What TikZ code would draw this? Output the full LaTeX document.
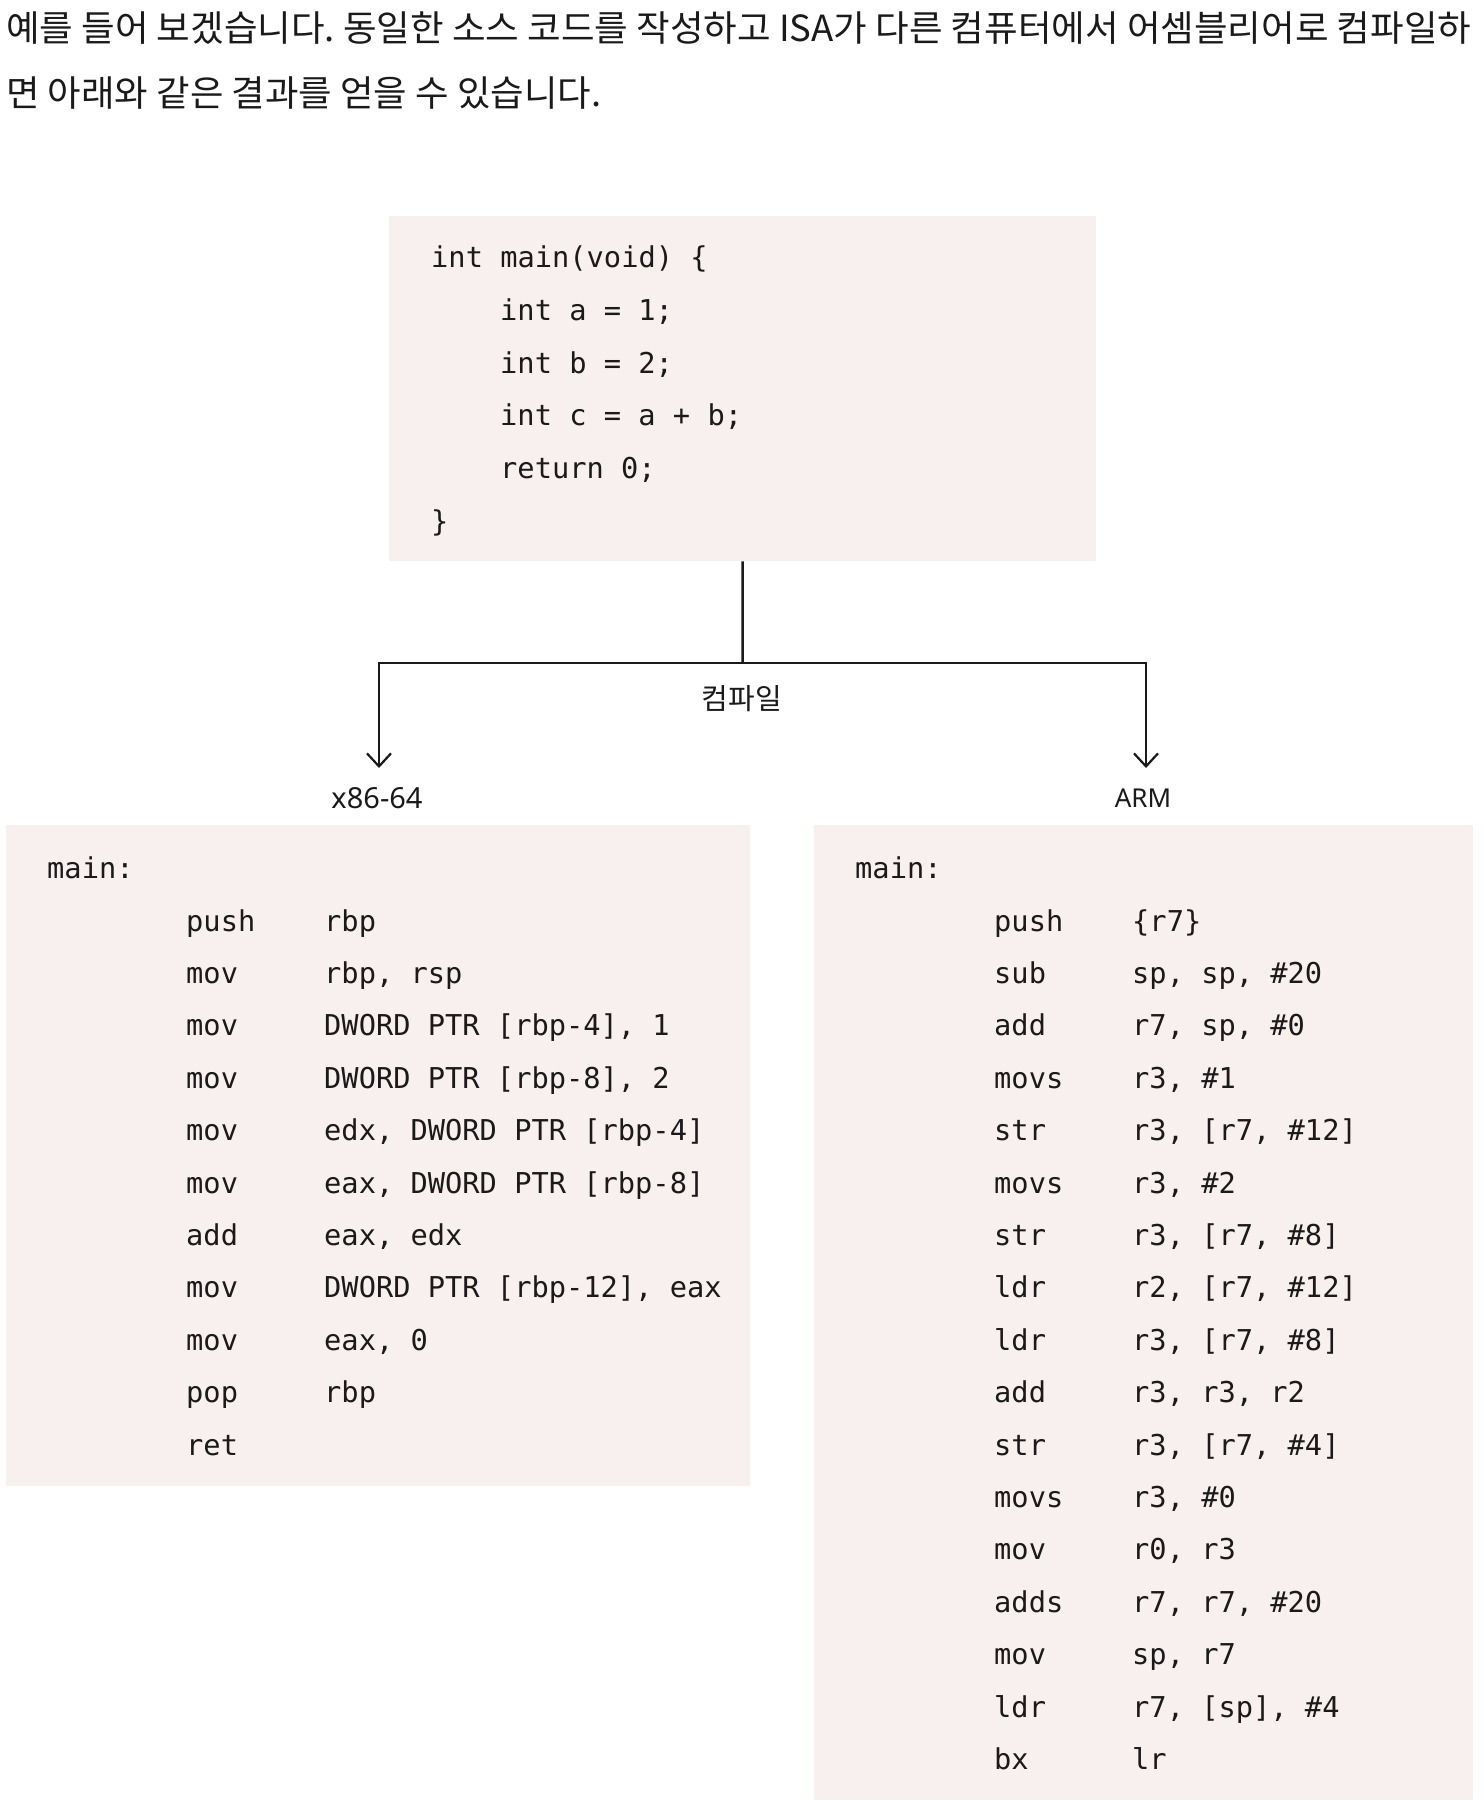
\documentclass[tikz,border=0pt]{standalone}
\usepackage{fontspec}
\usepackage{graphicx}
\setmonofont{DejaVu Sans Mono}
\setsansfont{Noto Sans}
\newfontfamily\kr{Noto Sans CJK KR}
\usetikzlibrary{arrows.meta}
\definecolor{boxfill}{HTML}{F8F0EE}
\definecolor{ink}{HTML}{1A1A1A}
\frenchspacing
\begin{document}
\begin{tikzpicture}[x=1pt,y=-1pt,
  codebox/.style={fill=boxfill, draw=none, inner sep=0pt, anchor=north west},
  code/.style={font=\ttfamily\fontsize{28.7}{34}\selectfont, text=ink, anchor=base west, inner sep=0pt},
  para/.style={font=\kr\fontsize{36}{42}\selectfont, text=ink, anchor=base west, inner sep=0pt},
  lbl/.style={font=\kr\fontsize{29}{32}\selectfont, text=ink, inner sep=0pt},
  conn/.style={draw=ink, line width=2.5pt},
  arr/.style={conn, -{Straight Barb[length=13pt, width=24pt, line width=2.2pt]}},
 ]
\useasboundingbox (0,0) rectangle (1483,1803);

% paragraph
\node[para] (p1) at (6,42) {\resizebox{1465pt}{\height}{예를 들어 보겠습니다. 동일한 소스 코드를 작성하고 ISA가 다른 컴퓨터에서 어셈블리어로 컴파일하}};
\node[para] (p2) at (6,107) {\resizebox{595pt}{\height}{면 아래와 같은 결과를 얻을 수 있습니다.}};

% boxes
\node[codebox, minimum width=707pt, minimum height=345pt] (src) at (389,216) {};
\node[codebox, minimum width=744pt, minimum height=661pt] (x86) at (6,825) {};
\node[codebox, minimum width=659pt, minimum height=975pt] (arm) at (814,825) {};

% source code
\node[code] (s0) at (431,267.5) {int main(void) \{};
\node[code] (s1) at (500,320) {int a = 1;};
\node[code] (s2) at (500,373) {int b = 2;};
\node[code] (s3) at (500,425.5) {int c = a + b;};
\node[code] (s4) at (500,478) {return 0;};
\node[code] (s5) at (431,531) {\}};

% connectors
\coordinate (split) at (742.5,663);
\coordinate (lft) at (379,663);
\coordinate (rgt) at (1146,663);
\coordinate (lend) at (379,768);
\coordinate (rend) at (1146,768);
\draw[conn] (src.south) -- (split);
\draw[arr] (split) -- (lft) -- (lend);
\draw[arr] (split) -- (rgt) -- (rend);
\node[lbl] (cmp) at (742,699) {컴파일};
\node[lbl, font=\sffamily\fontsize{29}{32}\selectfont] (lx) at (377,798) {x86-64};
\node[lbl, font=\sffamily\fontsize{26}{30}\selectfont] (la) at (1143,798) {ARM};

% x86 code
\node[code] (xm) at (47,878) {main:};
\foreach \ins/\ops [count=\i from 0] in {push/{rbp}, mov/{rbp, rsp}, mov/{DWORD PTR [rbp-4], 1}, mov/{DWORD PTR [rbp-8], 2}, mov/{edx, DWORD PTR [rbp-4]}, mov/{eax, DWORD PTR [rbp-8]}, add/{eax, edx}, mov/{DWORD PTR [rbp-12], eax}, mov/{eax, 0}, pop/{rbp}, ret/{}}{
  \node[code] (xi\i) at (186,931+52.4*\i) {\ins};
  \node[code] (xo\i) at (324,931+52.4*\i) {\ops};
}

% ARM code
\node[code] (am) at (855,878) {main:};
\foreach \ins/\ops [count=\i from 0] in {push/{\{r7\}}, sub/{sp, sp, \#20}, add/{r7, sp, \#0}, movs/{r3, \#1}, str/{r3, [r7, \#12]}, movs/{r3, \#2}, str/{r3, [r7, \#8]}, ldr/{r2, [r7, \#12]}, ldr/{r3, [r7, \#8]}, add/{r3, r3, r2}, str/{r3, [r7, \#4]}, movs/{r3, \#0}, mov/{r0, r3}, adds/{r7, r7, \#20}, mov/{sp, r7}, ldr/{r7, [sp], \#4}, bx/{lr}}{
  \node[code] (ai\i) at (994,931+52.4*\i) {\ins};
  \node[code] (ao\i) at (1132,931+52.4*\i) {\ops};
}
\end{tikzpicture}
\end{document}
